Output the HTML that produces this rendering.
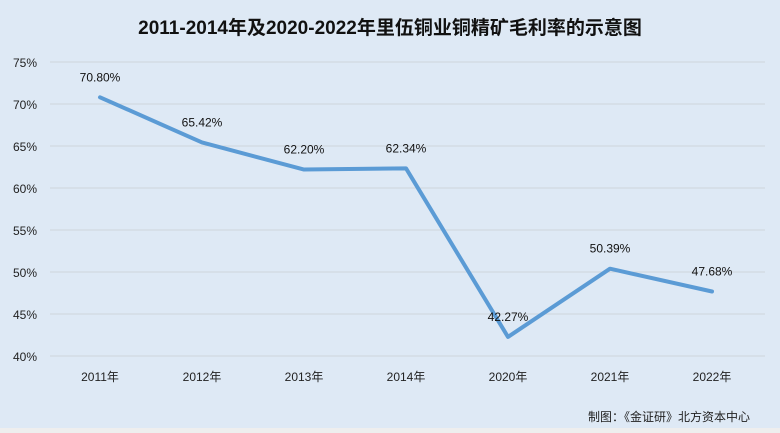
<!DOCTYPE html>
<html><head><meta charset="utf-8"><style>
body{margin:0;width:780px;height:433px;overflow:hidden;background:#dee9f5;font-family:"Liberation Sans","Noto Sans CJK SC",sans-serif}
svg{display:block}
</style></head><body>
<svg width="780" height="433">
<rect x="0" y="0" width="780" height="428" fill="#dee9f5"/>
<rect x="0" y="428" width="780" height="5" fill="#eeeeee"/>
<text x="390" y="34" text-anchor="middle" font-size="19" font-weight="bold" fill="#111">2011-2014年及2020-2022年里伍铜业铜精矿毛利率的示意图</text>
<g id="grid"></g><g id="yt"></g><g id="xt"></g><g id="line"></g><g id="lbl"></g>
<text x="750" y="421" text-anchor="end" font-size="12" fill="#222">制图：《金证研》北方资本中心</text>
</svg>
<script>
const categories=["2011年","2012年","2013年","2014年","2020年","2021年","2022年"];
const values=[70.80,65.42,62.20,62.34,42.27,50.39,47.68];
const valueLabels=["70.80%","65.42%","62.20%","62.34%","42.27%","50.39%","47.68%"];
const yTicks=[40,45,50,55,60,65,70,75];
const NS="http://www.w3.org/2000/svg";
const y=v=>356-(v-40)*8.4;
const x=i=>100+i*102;
function mk(p,t,a,txt){const e=document.createElementNS(NS,t);for(const k in a)e.setAttribute(k,a[k]);if(txt!==undefined)e.textContent=txt;document.getElementById(p).appendChild(e);return e;}
yTicks.forEach(v=>{
 const g=mk('grid','line',{x1:50,x2:765,y1:y(v),y2:y(v),stroke:'#cfd5dc','stroke-width':1});
 
 
 const t=mk('yt','text',{x:37,y:y(v)+5,'text-anchor':'end','font-size':12,fill:'#222'},v+'%');
 
 
});
categories.forEach((c,i)=>{
 const t=mk('xt','text',{x:x(i),y:381,'text-anchor':'middle','font-size':12,fill:'#222'},c);
 
 
});
const pl=mk('line','polyline',{points:values.map((v,i)=>x(i)+','+y(v)).join(' '),fill:'none',stroke:'#5b9bd5','stroke-width':4,'stroke-linejoin':'round','stroke-linecap':'round'});


values.forEach((v,i)=>{
 const t=mk('lbl','text',{x:x(i),y:y(v)-16,'text-anchor':'middle','font-size':12,fill:'#111'},valueLabels[i]);
 
 
});
</script>
</body></html>
